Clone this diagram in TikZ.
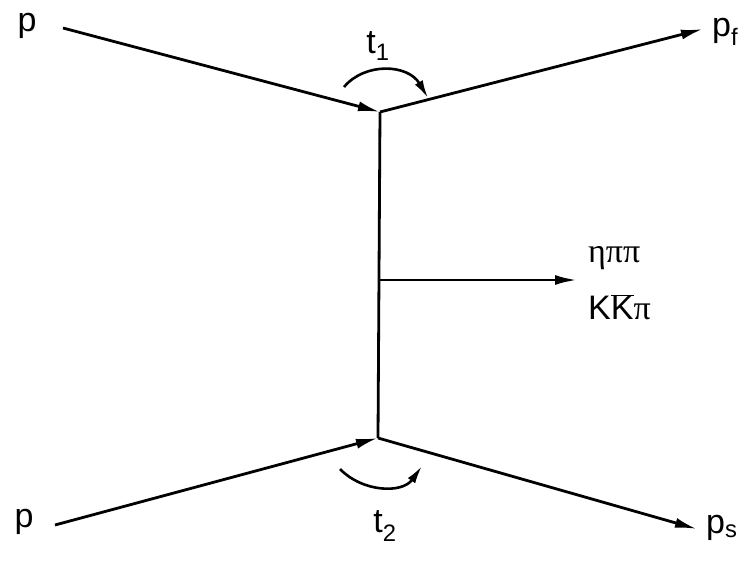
\documentclass[tikz,border=0pt]{standalone}
\usepackage{fontspec}
\setmainfont{Liberation Sans}
\newfontfamily\greekfont{Liberation Serif}
\usetikzlibrary{arrows.meta}
\tikzset{
  leg/.style={line width=2.8pt},
  arr/.style={leg,-{Latex[length=22pt,width=10pt]}},
  twist/.style={line width=2.6pt,-{Latex[length=18pt,width=9pt]}},
  lab/.style={font=\fontsize{34}{38}\selectfont,inner sep=0pt}
}
\begin{document}
\begin{tikzpicture}[x=1pt,y=-1pt]
\useasboundingbox (0,0) rectangle (750,560);

\coordinate (vtop) at (380,112);
\coordinate (vbot) at (378,438);
\coordinate (pin1) at (63,28);
\coordinate (pin2) at (55,525);
\coordinate (pf) at (703,29);
\coordinate (ps) at (697,529);
\coordinate (mid) at (379,280);
\coordinate (xout) at (577,280);

\node[lab] (p1) at (27,26) {p};
\node[lab] (p2) at (24,522) {p};
\node[lab,anchor=west] (pfl) at (712,32) {p\textsubscript{f}};
\node[lab,anchor=west] (psl) at (706,528) {p\textsubscript{s}};
\node[lab] (t1) at (378,46) {t\textsubscript{1}};
\node[lab] (t2) at (385,526) {t\textsubscript{2}};
\node[lab,anchor=west] (eta) at (588,258) {\greekfont ηππ};
\node[lab,anchor=west] (kk) at (588,307) {K$\overline{\mbox{K}}$\greekfont π};

\draw[arr] (pin1) -- (vtop);
\draw[arr] (vtop) -- (pf);
\draw[arr] (pin2) -- (vbot);
\draw[arr] (vbot) -- (ps);
\draw[leg] (vtop) -- (vbot);
\draw[arr] (mid) -- (xout);

\draw[twist] (344,87) .. controls (365,62) and (408,64) .. (428,98);
\draw[twist] (340,469) .. controls (362,492) and (402,494) .. (422,466);
\end{tikzpicture}
\end{document}
